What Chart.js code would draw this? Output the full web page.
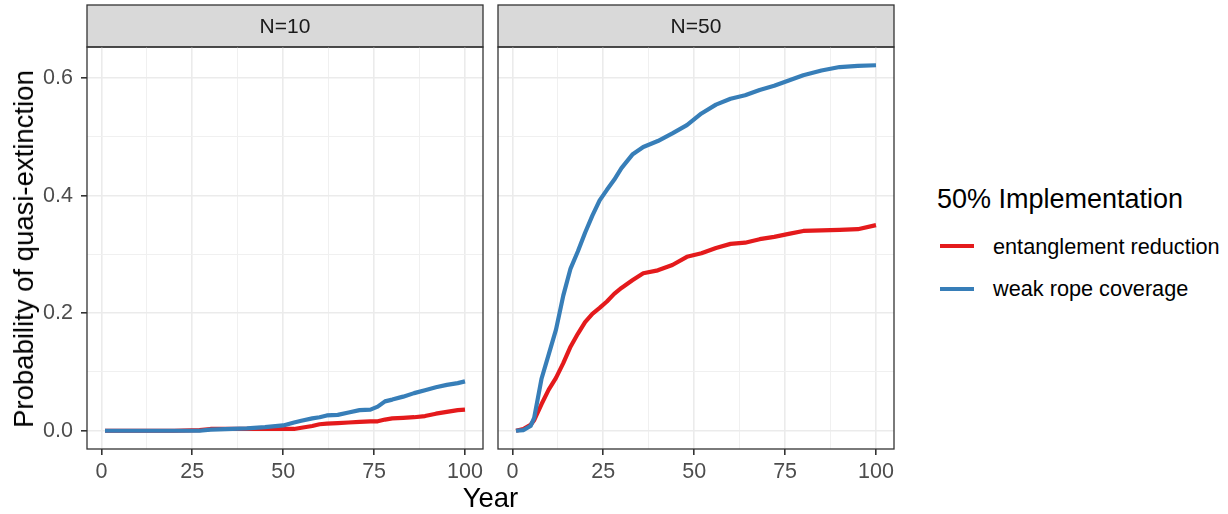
<!DOCTYPE html>
<html>
<head>
<meta charset="utf-8">
<script src="https://cdn.jsdelivr.net/npm/chart.js@4.4.1/dist/chart.umd.min.js"></script>
<style>
  html, body { margin: 0; padding: 0; background: #fff; }
  body { width: 1228px; height: 514px; position: relative; overflow: hidden; font-family: "Liberation Sans", Arial, sans-serif; }
  canvas { position: absolute; top: 0; }
  .txt { position: absolute; white-space: nowrap; }
  .strip { font-size: 21px; color: #1A1A1A; line-height: 24px; text-align: center; transform: translateX(-50%); }
  .title { font-size: 27.5px; color: #000; line-height: 30px; }
  .legtitle { font-size: 27px; color: #000; line-height: 30px; }
  .leglab { font-size: 21.7px; color: #000; line-height: 24px; }
  .key { position: absolute; height: 4px; width: 34px; }
</style>
</head>
<body>
<canvas id="c10" width="490" height="514" style="left:0px"></canvas>
<canvas id="c50" width="410" height="514" style="left:490px"></canvas>

<div class="txt strip" id="s10" style="left:285px; top:14px;"></div>
<div class="txt strip" id="s50" style="left:696px; top:14px;"></div>

<div class="txt title" id="ytitle" style="left:24px; top:249px; transform: translate(-50%,-50%) rotate(-90deg);"></div>
<div class="txt title" id="xtitle" style="left:490.5px; top:483px; transform: translateX(-50%);"></div>

<div class="txt legtitle" id="legtitle" style="left:937px; top:184px;"></div>
<div class="key" id="key0" style="left:940px; top:244px;"></div>
<div class="key" id="key1" style="left:940px; top:287px;"></div>
<div class="txt leglab" id="leg0" style="left:993px; top:235px;"></div>
<div class="txt leglab" id="leg1" style="left:993px; top:277px;"></div>

<script>
// ---- data ----
const panelLabels = ['N=10', 'N=50'];
const seriesNames = ['entanglement reduction', 'weak rope coverage'];
const seriesColors = ['#E41A1C', '#377EB8'];
const legendTitle = '50% Implementation';
const xTitle = 'Year';
const yTitle = 'Probability of quasi-extinction';

const xTicks = [0, 12.5, 25, 37.5, 50, 62.5, 75, 87.5, 100];
const yTicks = [0, 0.1, 0.2, 0.3, 0.4, 0.5, 0.6];

const years10 = [1, 10, 20, 27, 30, 40, 45, 50, 53, 55, 58, 60, 62, 65, 68, 71, 74, 76, 78, 80, 83, 86, 89, 92, 95, 98, 100];
const entangle10 = [0, 0, 0, 0.001, 0.003, 0.003, 0.003, 0.003, 0.003, 0.005, 0.008, 0.011, 0.012, 0.013, 0.014, 0.015, 0.016, 0.016, 0.019, 0.021, 0.022, 0.023, 0.025, 0.029, 0.032, 0.035, 0.036];
const weak10 = [0, 0, 0, 0, 0.002, 0.004, 0.006, 0.009, 0.014, 0.017, 0.021, 0.023, 0.026, 0.027, 0.031, 0.035, 0.036, 0.041, 0.050, 0.053, 0.058, 0.064, 0.069, 0.074, 0.078, 0.081, 0.084];

const years50 = [1, 3, 5, 6, 8, 10, 12, 14, 16, 18, 20, 22, 24, 26, 28, 30, 33, 36, 40, 44, 48, 52, 56, 60, 64, 68, 72, 76, 80, 85, 90, 95, 100];
const entangle50 = [0, 0.003, 0.010, 0.018, 0.045, 0.070, 0.090, 0.115, 0.143, 0.165, 0.185, 0.199, 0.209, 0.220, 0.233, 0.243, 0.256, 0.268, 0.273, 0.282, 0.296, 0.302, 0.311, 0.318, 0.320, 0.326, 0.330, 0.335, 0.340, 0.341, 0.342, 0.343, 0.350];
const weak50 = [0, 0.001, 0.008, 0.022, 0.088, 0.130, 0.172, 0.230, 0.276, 0.305, 0.337, 0.366, 0.392, 0.410, 0.427, 0.447, 0.470, 0.483, 0.493, 0.506, 0.520, 0.540, 0.555, 0.565, 0.571, 0.580, 0.587, 0.596, 0.605, 0.613, 0.619, 0.621, 0.622];

// ---- text ----
document.getElementById('s10').textContent = panelLabels[0];
document.getElementById('s50').textContent = panelLabels[1];
document.getElementById('xtitle').textContent = xTitle;
document.getElementById('ytitle').textContent = yTitle;
document.getElementById('legtitle').textContent = legendTitle;
document.getElementById('leg0').textContent = seriesNames[0];
document.getElementById('leg1').textContent = seriesNames[1];
document.getElementById('key0').style.background = seriesColors[0];
document.getElementById('key1').style.background = seriesColors[1];

const FONT = '"Liberation Sans", Arial, sans-serif';

const panelPlugin = {
  id: 'panelFrame',
  beforeDraw(chart) {
    const a = chart.chartArea, ctx = chart.ctx;
    ctx.save();
    ctx.fillStyle = '#D9D9D9';
    ctx.fillRect(a.left, 5, a.right - a.left, a.top - 5);
    ctx.strokeStyle = '#333333';
    ctx.lineWidth = 1.3;
    ctx.strokeRect(a.left, 5, a.right - a.left, a.top - 5);
    ctx.restore();
  },
  afterDraw(chart) {
    const a = chart.chartArea, ctx = chart.ctx;
    ctx.save();
    ctx.strokeStyle = '#333333';
    ctx.lineWidth = 1.3;
    ctx.strokeRect(a.left, a.top, a.right - a.left, a.bottom - a.top);
    ctx.restore();
  }
};

function isMajorX(v) { return Math.abs(v % 25) < 1e-9; }
function isMajorY(v) { return Math.abs(Math.round(v * 10) % 2) === 0; }

function makeChart(id, years, red, blue, showY, rightPad) {
  const pts = (arr) => years.map((x, i) => ({ x: x, y: arr[i] }));
  return new Chart(document.getElementById(id), {
    type: 'line',
    data: {
      datasets: [
        { label: seriesNames[1], data: pts(blue), borderColor: seriesColors[1], backgroundColor: seriesColors[1], order: 0 },
        { label: seriesNames[0], data: pts(red), borderColor: seriesColors[0], backgroundColor: seriesColors[0], order: 1 }
      ]
    },
    options: {
      responsive: false,
      animation: false,
      devicePixelRatio: 1,
      layout: { padding: { left: 0, top: 47, right: rightPad, bottom: 0 } },
      elements: {
        point: { radius: 0, hoverRadius: 0 },
        line: { borderWidth: 4.2, tension: 0, borderCapStyle: 'butt', borderJoinStyle: 'round' }
      },
      plugins: { legend: { display: false }, tooltip: { enabled: false }, title: { display: false } },
      scales: {
        x: {
          type: 'linear',
          min: -3.95, max: 104.95,
          afterBuildTicks: (s) => { s.ticks = xTicks.map(v => ({ value: v })); },
          afterFit: (s) => { s.height = 65; },
          border: { display: false },
          grid: {
            color: (c) => isMajorX(c.tick.value) ? '#EBEBEB' : '#F0F0F0',
            lineWidth: (c) => isMajorX(c.tick.value) ? 1.6 : 1,
            tickColor: (c) => isMajorX(c.tick.value) ? '#333333' : 'rgba(0,0,0,0)',
            tickLength: 6,
            drawTicks: true
          },
          ticks: {
            autoSkip: false, maxRotation: 0, padding: 4,
            color: '#4D4D4D',
            font: { family: FONT, size: 21.5 },
            callback: (v) => isMajorX(v) ? String(v) : ''
          }
        },
        y: {
          type: 'linear',
          min: -0.0311, max: 0.6531,
          afterBuildTicks: (s) => { s.ticks = yTicks.map(v => ({ value: v })); },
          afterFit: (s) => { s.width = showY ? 87 : 8; },
          border: { display: false },
          grid: {
            color: (c) => isMajorY(c.tick.value) ? '#EBEBEB' : '#F0F0F0',
            lineWidth: (c) => isMajorY(c.tick.value) ? 1.6 : 1,
            tickColor: (c) => isMajorY(c.tick.value) ? '#333333' : 'rgba(0,0,0,0)',
            tickLength: 6,
            drawTicks: showY
          },
          ticks: {
            display: showY,
            autoSkip: false, padding: 8,
            color: '#4D4D4D',
            font: { family: FONT, size: 21.5 },
            callback: (v) => isMajorY(v) ? v.toFixed(1) : ''
          }
        }
      }
    },
    plugins: [panelPlugin]
  });
}

makeChart('c10', years10, entangle10, weak10, true, 7);
makeChart('c50', years50, entangle50, weak50, false, 6);
</script>
</body>
</html>
